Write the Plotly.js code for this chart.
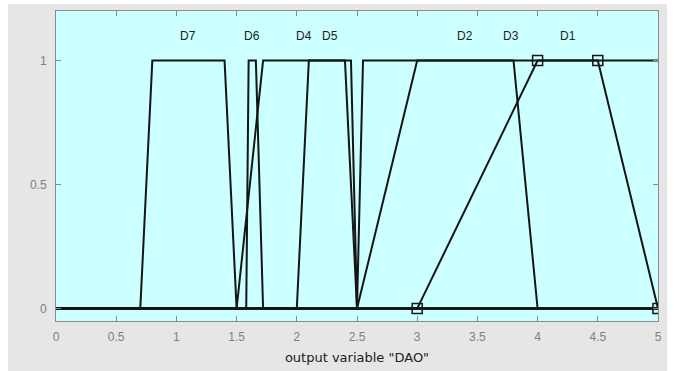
<!DOCTYPE html>
<html>
<head>
<meta charset="utf-8">
<script src="https://cdn.plot.ly/plotly-3.0.1.min.js"></script>
<style>
  html, body { margin: 0; padding: 0; background: #ffffff; width: 674px; height: 371px; overflow: hidden; }
  #chart { position: absolute; left: 8px; top: 4px; width: 659px; height: 367px; }
</style>
</head>
<body>
<div id="chart"></div>
<script>
// Membership function names and trapezoid parameters [a, b, c, d]
const mfNames = ['D1', 'D2', 'D3', 'D4', 'D5', 'D6', 'D7'];
const mfA = [3.0, 2.5, 2.5, 1.5, 2.0, 1.58, 0.7];
const mfB = [4.0, 3.0, 2.55, 1.72, 2.1, 1.6, 0.8];
const mfC = [4.5, 3.8, 5.0, 2.4, 2.45, 1.66, 1.4];
const mfD = [5.0, 4.0, 5.0, 2.5, 2.5, 1.72, 1.5];
const selectedMf = 'D1';
const xRange = [0, 5];
const xTickVals = [0, 0.5, 1, 1.5, 2, 2.5, 3, 3.5, 4, 4.5, 5];
const xTickText = ['0', '0.5', '1', '1.5', '2', '2.5', '3', '3.5', '4', '4.5', '5'];
const yTickVals = [0, 0.5, 1];
const yTickText = ['0', '0.5', '1'];
const labelY = 1.1;

// trapezoidal membership evaluation (as the toolbox does)
function trapmf(x, a, b, c, d) {
  let left = (x < a) ? 0 : (x >= b ? 1 : (x - a) / (b - a));
  let right = (x > d) ? 0 : (x <= c ? 1 : (d - x) / (d - c));
  return Math.max(0, Math.min(left, right));
}

const traces = [];
const annotations = [];
mfNames.forEach((name, i) => {
  const xs = [xRange[0], mfA[i], mfB[i], mfC[i], mfD[i], xRange[1]];
  const ys = xs.map(x => trapmf(x, mfA[i], mfB[i], mfC[i], mfD[i]));
  traces.push({
    x: xs, y: ys, type: 'scatter', mode: 'lines', name: name,
    line: { color: '#151515', width: 2 }, hoverinfo: 'skip', showlegend: false
  });
  annotations.push({
    x: (mfB[i] + mfC[i]) / 2, y: labelY, xref: 'x', yref: 'y',
    text: name, showarrow: false,
    font: { family: 'Liberation Sans, Arial, sans-serif', size: 12, color: '#222222' }
  });
});
const si = mfNames.indexOf(selectedMf);
const selX = [mfA[si], mfB[si], mfC[si], mfD[si]];
traces.push({
  x: selX, y: selX.map(x => trapmf(x, mfA[si], mfB[si], mfC[si], mfD[si])),
  type: 'scatter', mode: 'markers', showlegend: false, hoverinfo: 'skip',
  marker: { symbol: 'square-open', size: 10, color: '#151515', line: { width: 1.5, color: '#151515' } }
});

const layout = {
  width: 659, height: 367,
  margin: { l: 48, r: 9, t: 7, b: 50 },
  paper_bgcolor: '#e6e6e6',
  plot_bgcolor: '#ccffff',
  showlegend: false,
  font: { family: 'Liberation Sans, Arial, sans-serif', size: 12, color: '#808080' },
  xaxis: {
    range: xRange, tickvals: xTickVals, ticktext: xTickText,
    ticks: 'inside', ticklen: 5, tickwidth: 1, tickcolor: '#8a8a8a',
    showline: true, linecolor: '#8a8a8a', linewidth: 1, mirror: 'ticks',
    showgrid: false, zeroline: false,
    tickfont: { size: 12, color: '#808080' },
    ticklabelstandoff: 5,
    title: { text: 'output variable "DAO"', font: { family: 'DejaVu Sans, sans-serif', size: 13, color: '#202020' }, standoff: 9 }
  },
  yaxis: {
    range: [-0.05, 1.2], tickvals: yTickVals, ticktext: yTickText,
    ticks: 'inside', ticklen: 5, tickwidth: 1, tickcolor: '#8a8a8a',
    showline: true, linecolor: '#8a8a8a', linewidth: 1, mirror: 'ticks',
    showgrid: false, zeroline: false,
    tickfont: { size: 12, color: '#808080' },
    ticklabelstandoff: 6
  },
  annotations: annotations
};

Plotly.newPlot('chart', traces, layout, { displayModeBar: false, staticPlot: true });
</script>
</body>
</html>
